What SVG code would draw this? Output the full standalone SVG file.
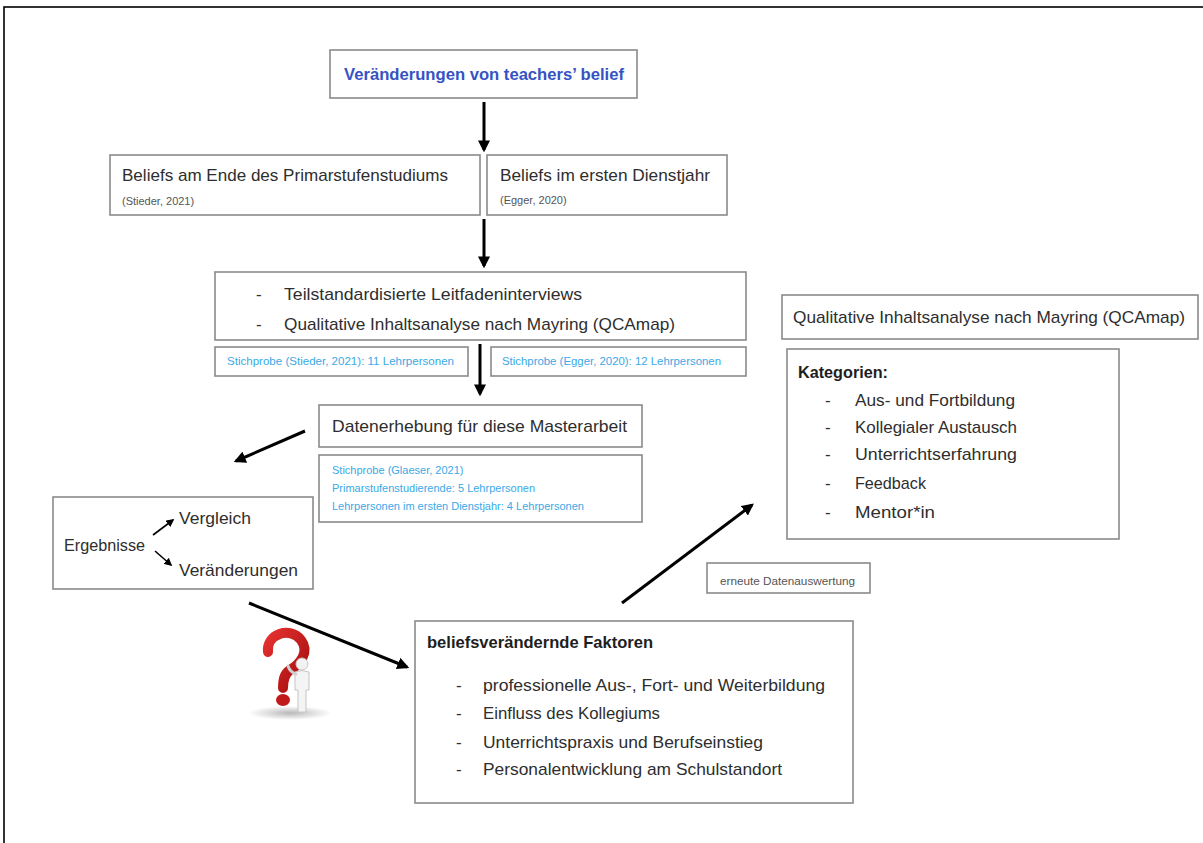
<svg xmlns="http://www.w3.org/2000/svg" width="1203" height="843" viewBox="0 0 1203 843">
  <style>
    .box { fill: #ffffff; stroke: #8a8a8a; stroke-width: 1.6; }
    .t { font-family: "Liberation Sans", Arial, sans-serif; font-size: 17px; fill: #2e2e2e; }
    .b { font-family: "Liberation Sans", Arial, sans-serif; font-size: 16.5px; font-weight: bold; fill: #1e1e1e; }
    .s { font-family: "Liberation Sans", Arial, sans-serif; font-size: 11px; fill: #555555; }
    .blue { font-family: "Liberation Sans", Arial, sans-serif; font-size: 11px; fill: #3aa9e6; }
    .title { font-family: "Liberation Sans", Arial, sans-serif; font-size: 16.5px; font-weight: bold; fill: #3553c4; }
    .arrow { stroke: #000000; stroke-width: 3; fill: none; marker-end: url(#head); }
    .thin { stroke: #000000; stroke-width: 1.6; fill: none; marker-end: url(#headSmall); }
  </style>
  <defs>
    <marker id="head" viewBox="0 0 10 10" refX="8" refY="5" markerWidth="4" markerHeight="4" orient="auto">
      <path d="M0,0 L10,5 L0,10 z" fill="#000000"/>
    </marker>
    <marker id="headSmall" viewBox="0 0 10 10" refX="8" refY="5" markerWidth="5" markerHeight="5" orient="auto">
      <path d="M0,0 L10,5 L0,10 z" fill="#000000"/>
    </marker>
    <radialGradient id="shadow" cx="0.5" cy="0.5" r="0.5">
      <stop offset="0" stop-color="#9a9a9a" stop-opacity="0.7"/>
      <stop offset="1" stop-color="#9a9a9a" stop-opacity="0"/>
    </radialGradient>
    <linearGradient id="qm" x1="0" y1="0" x2="1" y2="1">
      <stop offset="0" stop-color="#e53030"/>
      <stop offset="1" stop-color="#a30e0e"/>
    </linearGradient>
  </defs>

  <rect width="1203" height="843" fill="#ffffff"/>
  <!-- outer frame -->
  <rect x="4" y="7" width="1215" height="850" fill="none" stroke="#000000" stroke-width="1.6"/>

  <!-- connectors -->
  <g id="connectors">
    <line class="arrow" x1="484" y1="102" x2="484" y2="150"/>
    <line class="arrow" x1="484" y1="219" x2="484" y2="266"/>
    <line class="arrow" x1="480" y1="344" x2="480" y2="394"/>
    <line class="arrow" x1="305" y1="431" x2="236" y2="461"/>
    <line class="arrow" x1="249" y1="603" x2="407" y2="667"/>
    <line class="arrow" x1="622" y1="603" x2="752" y2="505"/>
  </g>

  <g id="n-title">
    <rect class="box" x="330" y="50" width="307" height="48"/>
    <text class="title" x="484" y="80" text-anchor="middle" textLength="280" lengthAdjust="spacingAndGlyphs">Veränderungen von teachers’ belief</text>
  </g>

  <g id="n-beliefs-ende">
    <rect class="box" x="110" y="155" width="370" height="60"/>
    <text class="t" x="122" y="181" textLength="326" lengthAdjust="spacingAndGlyphs">Beliefs am Ende des Primarstufenstudiums</text>
    <text class="s" x="122" y="205">(Stieder, 2021)</text>
  </g>

  <g id="n-beliefs-dienstjahr">
    <rect class="box" x="487" y="155" width="240" height="60"/>
    <text class="t" x="500" y="181" textLength="210" lengthAdjust="spacingAndGlyphs">Beliefs im ersten Dienstjahr</text>
    <text class="s" x="500" y="204">(Egger, 2020)</text>
  </g>

  <g id="n-methode">
    <rect class="box" x="215" y="272" width="531" height="68"/>
    <text class="t" x="256" y="300">-</text>
    <text class="t" x="284" y="300" textLength="298" lengthAdjust="spacingAndGlyphs">Teilstandardisierte Leitfadeninterviews</text>
    <text class="t" x="256" y="330">-</text>
    <text class="t" x="284" y="330" textLength="391" lengthAdjust="spacingAndGlyphs">Qualitative Inhaltsanalyse nach Mayring (QCAmap)</text>
  </g>

  <g id="n-stichprobe-stieder">
    <rect class="box" x="215" y="347" width="253" height="29"/>
    <text class="blue" x="227" y="365" textLength="227" lengthAdjust="spacingAndGlyphs">Stichprobe (Stieder, 2021): 11 Lehrpersonen</text>
  </g>

  <g id="n-stichprobe-egger">
    <rect class="box" x="491" y="347" width="255" height="29"/>
    <text class="blue" x="502" y="365" textLength="219" lengthAdjust="spacingAndGlyphs">Stichprobe (Egger, 2020): 12 Lehrpersonen</text>
  </g>

  <g id="n-datenerhebung">
    <rect class="box" x="319" y="405" width="323" height="42"/>
    <text class="t" x="332" y="432" textLength="295" lengthAdjust="spacingAndGlyphs">Datenerhebung für diese Masterarbeit</text>
  </g>

  <g id="n-stichprobe-glaeser">
    <rect class="box" x="319" y="455" width="323" height="67"/>
    <text class="blue" x="332" y="474">Stichprobe (Glaeser, 2021)</text>
    <text class="blue" x="332" y="492">Primarstufenstudierende: 5 Lehrpersonen</text>
    <text class="blue" x="332" y="510">Lehrpersonen im ersten Dienstjahr: 4 Lehrpersonen</text>
  </g>

  <g id="n-ergebnisse">
    <rect class="box" x="53" y="497" width="260" height="92"/>
    <text class="t" x="64" y="551" textLength="81" lengthAdjust="spacingAndGlyphs">Ergebnisse</text>
    <text class="t" x="179" y="524" textLength="72" lengthAdjust="spacingAndGlyphs">Vergleich</text>
    <text class="t" x="179" y="576" textLength="119" lengthAdjust="spacingAndGlyphs">Veränderungen</text>
    <line class="thin" x1="153" y1="535" x2="173" y2="520"/>
    <line class="thin" x1="155" y1="551" x2="171" y2="565"/>
  </g>

  <g id="n-neuauswertung">
    <rect class="box" x="707" y="563" width="163" height="30"/>
    <text class="s" x="720" y="585" textLength="135" lengthAdjust="spacingAndGlyphs" fill="#444444">erneute Datenauswertung</text>
  </g>

  <g id="n-qca">
    <rect class="box" x="782" y="295" width="416" height="44"/>
    <text class="t" x="793" y="323" textLength="392" lengthAdjust="spacingAndGlyphs">Qualitative Inhaltsanalyse nach Mayring (QCAmap)</text>
  </g>

  <g id="n-kategorien">
    <rect class="box" x="787" y="349" width="332" height="190"/>
    <text class="b" x="798" y="378" textLength="90" lengthAdjust="spacingAndGlyphs">Kategorien:</text>
    <text class="t" x="825" y="406">-</text>
    <text class="t" x="855" y="406" textLength="160" lengthAdjust="spacingAndGlyphs">Aus- und Fortbildung</text>
    <text class="t" x="825" y="433">-</text>
    <text class="t" x="855" y="433" textLength="162" lengthAdjust="spacingAndGlyphs">Kollegialer Austausch</text>
    <text class="t" x="825" y="460">-</text>
    <text class="t" x="855" y="460" textLength="162" lengthAdjust="spacingAndGlyphs">Unterrichtserfahrung</text>
    <text class="t" x="825" y="489">-</text>
    <text class="t" x="855" y="489" textLength="71" lengthAdjust="spacingAndGlyphs">Feedback</text>
    <text class="t" x="825" y="518">-</text>
    <text class="t" x="855" y="518" textLength="80" lengthAdjust="spacingAndGlyphs">Mentor*in</text>
  </g>

  <g id="n-faktoren">
    <rect class="box" x="415" y="621" width="438" height="182"/>
    <text class="b" x="427" y="648" textLength="226" lengthAdjust="spacingAndGlyphs">beliefsverändernde Faktoren</text>
    <text class="t" x="456" y="691">-</text>
    <text class="t" x="483" y="691" textLength="342" lengthAdjust="spacingAndGlyphs">professionelle Aus-, Fort- und Weiterbildung</text>
    <text class="t" x="456" y="719">-</text>
    <text class="t" x="483" y="719" textLength="177" lengthAdjust="spacingAndGlyphs">Einfluss des Kollegiums</text>
    <text class="t" x="456" y="748">-</text>
    <text class="t" x="483" y="748" textLength="280" lengthAdjust="spacingAndGlyphs">Unterrichtspraxis und Berufseinstieg</text>
    <text class="t" x="456" y="775">-</text>
    <text class="t" x="483" y="775" textLength="299" lengthAdjust="spacingAndGlyphs">Personalentwicklung am Schulstandort</text>
  </g>

  <!-- clipart: red question mark with a small white figure -->
  <g id="question-figure">
    <ellipse cx="290" cy="713" rx="42" ry="7" fill="url(#shadow)"/>
    <path d="M268,652 C266,634 290,626 301,640 C310,652 300,664 290,670 C284,674 283,680 283,688" fill="none" stroke="url(#qm)" stroke-width="10" stroke-linecap="round"/>
    <ellipse cx="283" cy="700" rx="7" ry="6" fill="#c11a1a"/>
    <circle cx="302" cy="664" r="6" fill="#f2f2f2" stroke="#c8c8c8" stroke-width="1"/>
    <path d="M295,672 Q302,669 309,672 L309,690 L306,690 L306,712 L298,712 L298,690 L295,690 Z" fill="#f4f4f4" stroke="#c4c4c4" stroke-width="1"/>
    <path d="M296,674 Q290,672 288,666" fill="none" stroke="#d0d0d0" stroke-width="3" stroke-linecap="round"/>
  </g>
</svg>
